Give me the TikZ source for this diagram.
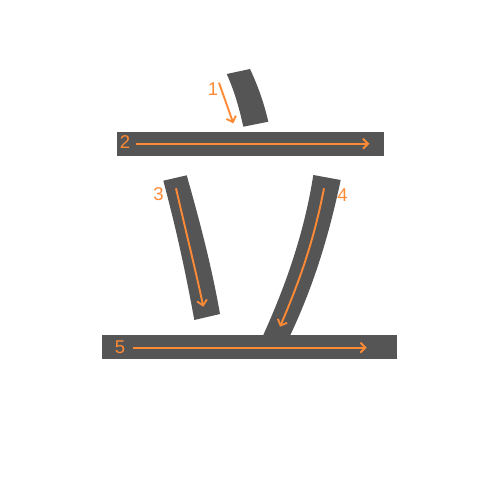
\documentclass[tikz,border=0pt]{standalone}
\usepackage{fontspec}
\setmainfont{Liberation Sans}
\usetikzlibrary{arrows.meta}
\definecolor{strokegray}{HTML}{555555}
\definecolor{orderorange}{HTML}{FF8A35}
\begin{document}
\begin{tikzpicture}[x=1pt,y=-1pt,
  strokeshape/.style={fill=strokegray,draw=none},
  orderarrow/.style={draw=orderorange,line width=1.9pt,-{Straight Barb[length=5pt,width=10pt,line width=1.9pt]}},
  numlabel/.style={text=orderorange,font=\fontsize{18.5}{18.5}\selectfont,inner sep=0pt}]
\useasboundingbox (0,0) rectangle (500,500);
% stroke 1
\fill[strokeshape] (226.7,74) -- (250,69) .. controls (258,86) and (264,103) .. (268.3,121.7) -- (243.3,126.7) .. controls (239,107) and (234,90) .. cycle;
% stroke 2
\fill[strokeshape] (117,132) rectangle (384,156);
% stroke 3
\fill[strokeshape] (163.3,180.7) -- (186.7,175.3) .. controls (200,222) and (212,268) .. (220,314) -- (194.3,320) .. controls (186,274) and (176,228) .. cycle;
% stroke 4
\fill[strokeshape] (313.3,175) -- (340.7,180) .. controls (328,240) and (312,290) .. (288,340) -- (261,340) .. controls (284,290) and (304,235) .. cycle;
% stroke 5
\fill[strokeshape] (102.3,335) rectangle (397.3,359.3);
% arrows
\coordinate (a1s) at (219,82.7); \coordinate (a1e) at (233.3,123.3);
\coordinate (a2s) at (136,143.7); \coordinate (a2e) at (369.3,143.7);
\coordinate (a3s) at (176,188.3); \coordinate (a3e) at (203.3,306.7);
\coordinate (a4s) at (324,188.3); \coordinate (a4e) at (280,326.7);
\coordinate (a5s) at (133.3,347.7); \coordinate (a5e) at (366.7,347.7);
\draw[orderarrow] (a1s) -- (a1e);
\draw[orderarrow] (a2s) -- (a2e);
\draw[orderarrow] (a3s) .. controls (186,232) and (196,272) .. (a3e);
\draw[orderarrow] (a4s) .. controls (314,240) and (300,280) .. (a4e);
\draw[orderarrow] (a5s) -- (a5e);
% labels
\node[numlabel] (n1) at (213,89.5) {1};
\node[numlabel] (n2) at (125,142.5) {2};
\node[numlabel] (n3) at (158.5,194.5) {3};
\node[numlabel] (n4) at (342.5,195) {4};
\node[numlabel] (n5) at (120,347) {5};
\end{tikzpicture}
\end{document}
